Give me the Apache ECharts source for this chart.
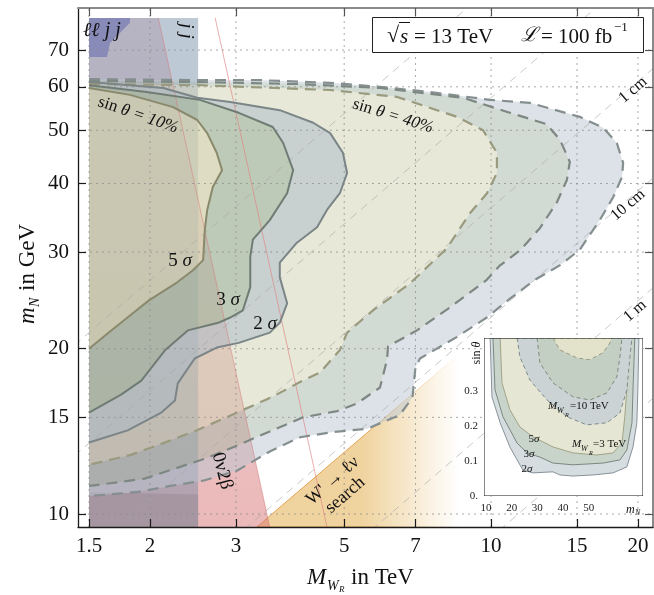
<!DOCTYPE html>
<html>
<head>
<meta charset="utf-8">
<script src="https://cdn.jsdelivr.net/npm/echarts@6.0.0/dist/echarts.min.js"></script>
<style>html,body{margin:0;padding:0;background:#fff;}#chart{width:654px;height:595px;}</style>
</head>
<body>
<div id="chart"></div>
<script>
// ================= DATA =================
const xTickTeV = [1.5, 2, 3, 5, 7, 10, 15, 20];
const yTickGeV = [10, 15, 20, 30, 40, 50, 60, 70];

// sin(theta) = 40 %  (dashed contours)   M_WR [TeV] , m_N [GeV]
const s40_2s_M = [1.5, 2.53, 3.36, 4.68, 5.92, 7.5, 9.95, 12.0, 15.2, 17.0, 18.1, 18.65, 18.55, 17.8, 16.7, 15.2, 13.85, 12.3, 10.95, 9.8, 8.5, 7.15, 7.0, 6.9, 6.5, 5.57, 4.74, 4.06, 3.52, 3.02, 2.57, 2.2, 1.89, 1.5];
const s40_2s_m = [62.0, 61.7, 61.7, 61.0, 60.0, 58.7, 56.8, 56.1, 52.9, 50.5, 47.4, 43.6, 41.1, 37.8, 34.3, 30.3, 28.4, 26.7, 24.7, 22.8, 21.0, 19.2, 18.5, 16.3, 15.15, 14.3, 14.1, 13.8, 13.0, 12.0, 11.5, 11.25, 10.97, 10.78];
const s40_3s_M = [1.5, 2.53, 4.06, 5.92, 8.76, 10.8, 13.0, 13.85, 14.5, 14.3, 13.65, 12.6, 11.5, 10.4, 9.8, 8.24, 7.05, 6.15, 6.12, 5.92, 5.31, 4.84, 4.12, 3.56, 3.06, 2.62, 2.25, 1.95, 1.565, 1.5];
const s40_3s_m = [61.5, 61.2, 60.7, 59.7, 57.3, 54.0, 51.3, 48.0, 43.8, 40.6, 37.0, 33.2, 30.3, 28.3, 26.7, 23.8, 21.6, 20.2, 19.1, 17.0, 15.9, 15.4, 15.0, 14.2, 13.4, 12.65, 12.1, 11.6, 11.3, 11.25];
const s40_5s_M = [1.5, 2.53, 4.68, 6.42, 8.52, 9.63, 10.28, 10.28, 9.81, 9.05, 8.12, 6.82, 5.73, 5.07, 4.90, 4.46, 4.06, 3.54, 2.94, 2.49, 2.10, 1.82, 1.5];
const s40_5s_m = [60.7, 60.4, 59.2, 57.5, 52.9, 50.0, 45.5, 41.8, 38.4, 35.3, 30.5, 26.3, 23.5, 21.4, 19.9, 18.1, 17.4, 16.3, 15.15, 14.2, 13.4, 12.8, 12.3];

// sin(theta) = 10 %  (solid contours)
const s10_2s_M = [1.5, 2.13, 2.50, 2.92, 3.69, 4.32, 4.68, 4.97, 5.07, 4.90, 4.61, 4.40, 4.00, 3.69, 3.69, 3.82, 3.69, 3.52, 3.04, 2.74, 2.47, 2.28, 2.25, 2.11, 1.80, 1.5];
const s10_2s_m = [61.2, 59.7, 57.3, 56.3, 54.4, 51.6, 49.4, 45.5, 41.8, 38.4, 35.8, 33.3, 31.2, 28.7, 27.0, 24.2, 22.3, 21.4, 20.5, 20.1, 19.2, 17.3, 16.1, 15.3, 14.2, 13.5];
const s10_3s_M = [1.5, 1.97, 2.53, 3.04, 3.57, 3.75, 3.93, 3.82, 3.52, 3.25, 3.21, 3.21, 3.10, 2.92, 2.76, 2.39, 2.15, 1.92, 1.745, 1.5];
const s10_3s_m = [60.4, 58.7, 56.8, 53.8, 50.7, 47.4, 42.3, 38.4, 34.3, 31.6, 29.4, 25.9, 23.5, 22.8, 22.3, 21.6, 19.9, 17.5, 16.5, 15.3];
const s10_5s_M = [1.5, 1.82, 2.23, 2.50, 2.62, 2.74, 2.81, 2.69, 2.62, 2.59, 2.57, 2.45, 2.27, 1.99, 1.82, 1.656, 1.5];
const s10_5s_m = [59.7, 58.0, 55.1, 52.2, 49.4, 45.5, 42.3, 39.4, 35.8, 32.9, 29.0, 27.8, 26.4, 24.5, 23.0, 21.5, 20.0];

// excluded / constrained regions
const jj_M = [1.5, 2.51, 2.51, 1.5];
const jj_m = [80.1, 80.1, 9.47, 9.47];
const nu2b_M = [1.5, 2.08, 3.52, 1.5];
const nu2b_m = [80.1, 80.1, 9.47, 9.47];
const lljj_M = [1.5, 1.82, 1.82, 1.656, 1.633, 1.5];
const lljj_m = [80.1, 80.1, 78.5, 72.1, 68.0, 68.0];
const lljjLow_M = [1.5, 2.51, 2.51, 1.5];
const lljjLow_m = [10.97, 10.85, 9.47, 9.47];
const redLine_M = [2.72, 4.61];
const redLine_m = [80.1, 9.47];
const wprime_M = [3.31, 9.81, 12.6, 12.6];
const wprime_m = [9.47, 21.6, 26.1, 9.47];

// decay-length lines (m_N at M_WR = 1.4 TeV and 22 TeV)
const decayNames = ['0.1 mm', '1 mm', '1 cm', '10 cm', '1 m', '10 m'];
const decayM_ends = [1.4, 22];
const decay_m_lo = [20.3, 12.77, 8.05, 5.08, 3.20, 2.02];
const decay_m_hi = [166.1, 104.6, 66.0, 41.7, 26.3, 16.55];

// inset: sin(theta) vs m_N
const insetXTicks = [10, 20, 30, 40, 50];
const insetYTicks = [0, 0.1, 0.2, 0.3];
const in3_2s_m = [11.6, 12.3, 15.5, 19.3, 22.1, 24.4, 28.3, 36.1, 38.8, 43.9, 51.7, 59.5, 64.9, 67.3, 68.8, 69.2, 69.6];
const in3_2s_s = [0.451, 0.283, 0.209, 0.140, 0.103, 0.074, 0.066, 0.069, 0.060, 0.057, 0.060, 0.066, 0.083, 0.140, 0.209, 0.303, 0.451];
const in3_3s_m = [12.7, 13.5, 16.6, 22.1, 26.0, 31.0, 36.1, 43.9, 55.6, 62.2, 64.9, 66.9, 67.3, 68.0];
const in3_3s_s = [0.451, 0.303, 0.226, 0.151, 0.123, 0.111, 0.094, 0.089, 0.094, 0.103, 0.131, 0.209, 0.303, 0.451];
const in3_5s_m = [15.5, 16.2, 19.3, 23.2, 28.3, 36.1, 43.9, 53.2, 59.5, 63.0, 64.1, 64.9, 65.3];
const in3_5s_s = [0.451, 0.323, 0.246, 0.197, 0.169, 0.140, 0.123, 0.117, 0.123, 0.151, 0.226, 0.303, 0.451];
const in10_2s_m = [22.1, 23.2, 27.1, 33.8, 41.6, 49.3, 57.1, 62.2, 64.9, 66.1, 66.9];
const in10_2s_s = [0.451, 0.397, 0.331, 0.274, 0.226, 0.203, 0.209, 0.237, 0.303, 0.397, 0.451];
const in10_3s_m = [29.9, 31.0, 36.1, 43.9, 50.5, 57.1, 61.0, 62.2, 63.0];
const in10_3s_s = [0.451, 0.380, 0.323, 0.283, 0.274, 0.294, 0.340, 0.397, 0.451];
const in10_5s_m = [36.1, 38.8, 45.5, 50.5, 55.6, 58.3, 59.1];
const in10_5s_s = [0.451, 0.417, 0.394, 0.389, 0.409, 0.437, 0.451];

// ================= STYLE / LAYOUT =================
const SERIF = "'Liberation Serif','DejaVu Serif',serif";
const AX = { xMin: 1.424, xMax: 21.47, yMin: 9.47, yMax: 83.5 };
const INSET_AX = { xMin: 9.2, xMax: 71.2, yMin: 0, yMax: 0.451 };
const WFADE = [5.4, 8.6]; // gradient fade of W' region (TeV)

const L = Math.log10;
const LP = (Ms, ms) => Ms.map((M, i) => [L(M), L(ms[i])]);
const IP = (xs, ys) => xs.map((x, i) => [x, ys[i]]);

function custom(z, renderItem, inset) {
  return {
    type: 'custom', coordinateSystem: 'cartesian2d',
    xAxisIndex: inset ? 2 : 0, yAxisIndex: inset ? 2 : 0,
    z: z, silent: true, clip: true, animation: false,
    data: inset ? [[30, 0.2]] : [[L(3), L(20)]],
    renderItem: renderItem
  };
}
function polyFill(pts, fill, z, inset, stroke, lw, dash) {
  return custom(z, (p, api) => ({
    type: 'polygon', shape: { points: pts.map(q => api.coord(q)) },
    style: { fill: fill, stroke: stroke || null, lineWidth: lw || 0, lineDash: dash || null }
  }), inset);
}
function ringFill(outer, inner, fill, z) {
  return custom(z, (p, api) => {
    const seg = arr => 'M' + arr.map(q => { const c = api.coord(q); return c[0].toFixed(2) + ' ' + c[1].toFixed(2); }).join('L') + 'Z';
    let d = seg(outer);
    if (inner) d += seg(inner.slice().reverse());
    return { type: 'path', shape: { pathData: d }, style: { fill: fill } };
  });
}
function polyLine(pts, stroke, lw, dash, z) {
  return custom(z, (p, api) => ({
    type: 'polyline', shape: { points: pts.map(q => api.coord(q)) },
    style: { fill: null, stroke: stroke, lineWidth: lw, lineDash: dash || null, lineJoin: 'round' }
  }));
}

const c40_2 = LP(s40_2s_M, s40_2s_m), c40_3 = LP(s40_3s_M, s40_3s_m), c40_5 = LP(s40_5s_M, s40_5s_m);
const c10_2 = LP(s10_2s_M, s10_2s_m), c10_3 = LP(s10_3s_M, s10_3s_m), c10_5 = LP(s10_5s_M, s10_5s_m);

const series = [];
// W' search region with horizontal fade
series.push(custom(2, (p, api) => {
  const pts = LP(wprime_M, wprime_m).map(q => api.coord(q));
  const x0 = api.coord([L(WFADE[0]), L(20)])[0], x1 = api.coord([L(WFADE[1]), L(20)])[0];
  const g = new echarts.graphic.LinearGradient(x0, 0, x1, 0, [
    { offset: 0, color: 'rgba(232,190,112,0.68)' }, { offset: 1, color: 'rgba(232,190,112,0)' }], true);
  const gs = new echarts.graphic.LinearGradient(x0, 0, x1, 0, [
    { offset: 0, color: 'rgba(225,150,60,0.85)' }, { offset: 1, color: 'rgba(225,150,60,0)' }], true);
  return { type: 'polygon', shape: { points: pts }, style: { fill: g, stroke: gs, lineWidth: 1 } };
}));
// 0νββ region, fading upward
series.push(custom(3, (p, api) => {
  const pts = LP(nu2b_M, nu2b_m).map(q => api.coord(q));
  const yTop = api.coord([L(2), L(nu2b_m[0])])[1], yBot = api.coord([L(2), L(nu2b_m[2])])[1];
  const g = new echarts.graphic.LinearGradient(0, yBot, 0, yTop, [
    { offset: 0, color: 'rgba(215,115,115,0.5)' }, { offset: 1, color: 'rgba(200,115,130,0.27)' }], true);
  return { type: 'polygon', shape: { points: pts }, style: { fill: g } };
}));
series.push(polyFill(LP(jj_M, jj_m), 'rgba(110,135,165,0.45)', 4));
series.push(polyFill(LP(lljj_M, lljj_m), 'rgba(75,80,170,0.42)', 5));
series.push(polyFill(LP(lljjLow_M, lljjLow_m), 'rgba(100,85,95,0.16)', 5));

// contour fills (rings)
series.push(ringFill(c40_2, c40_3, 'rgba(185,197,208,0.5)', 6));
series.push(ringFill(c40_3, c40_5, 'rgba(165,184,168,0.5)', 6));
series.push(ringFill(c40_5, c10_2, 'rgba(208,210,178,0.5)', 6));
series.push(ringFill(c10_2, null, 'rgba(208,210,178,0.5)', 6));
series.push(ringFill(c10_2, c10_3, 'rgba(170,185,200,0.5)', 7));
series.push(ringFill(c10_3, c10_5, 'rgba(150,172,152,0.5)', 7));
series.push(ringFill(c10_5, null, 'rgba(210,208,170,0.45)', 7));

// dotted grid
series.push(custom(8, (p, api) => {
  const ch = [];
  const st = { stroke: 'rgba(140,140,140,0.75)', lineWidth: 1, lineDash: [2, 4] };
  xTickTeV.forEach(v => {
    const a = api.coord([L(v), L(AX.yMin)]), b = api.coord([L(v), L(AX.yMax)]);
    ch.push({ type: 'line', shape: { x1: a[0], y1: a[1], x2: b[0], y2: b[1] }, style: st });
  });
  yTickGeV.forEach(v => {
    const a = api.coord([L(AX.xMin), L(v)]), b = api.coord([L(AX.xMax), L(v)]);
    ch.push({ type: 'line', shape: { x1: a[0], y1: a[1], x2: b[0], y2: b[1] }, style: st });
  });
  return { type: 'group', children: ch };
}));
// decay length lines
decayNames.forEach((n, i) => {
  series.push(polyLine(LP(decayM_ends, [decay_m_lo[i], decay_m_hi[i]]), 'rgba(165,165,165,0.6)', 1, [8, 6], 8));
});
// 0νββ edges
series.push(polyLine(LP(redLine_M, redLine_m), 'rgba(225,130,130,0.65)', 1, null, 9));
series.push(polyLine(LP([nu2b_M[1], nu2b_M[2]], [nu2b_m[1], nu2b_m[2]]), 'rgba(215,120,120,0.5)', 1, null, 9));

// contour lines
series.push(polyLine(c40_2, '#868f90', 2.2, [11, 7], 10));
series.push(polyLine(c40_3, '#7d8883', 2.2, [11, 7], 10));
series.push(polyLine(c40_5, '#9a9a7e', 2.2, [11, 7], 10));
series.push(polyLine(c10_2, '#7b8587', 2, null, 10));
series.push(polyLine(c10_3, '#6f7c74', 2, null, 10));
series.push(polyLine(c10_5, '#8a896c', 2, null, 10));

// ---------- inset ----------
series.push(custom(20, (p, api) => {
  const a = api.coord([INSET_AX.xMin, INSET_AX.yMax]), b = api.coord([INSET_AX.xMax, INSET_AX.yMin]);
  return { type: 'rect', shape: { x: a[0], y: a[1], width: b[0] - a[0], height: b[1] - a[1] }, style: { fill: '#fff' } };
}, true));
series.push(polyFill(IP(in3_2s_m, in3_2s_s), '#d6dde1', 21, true, '#88939a', 1));
series.push(polyFill(IP(in3_3s_m, in3_3s_s), '#c8d4ca', 21, true, '#7a8881', 1));
series.push(polyFill(IP(in3_5s_m, in3_5s_s), '#e5e6d3', 21, true, '#a3a488', 1));
series.push(polyFill(IP(in10_2s_m, in10_2s_s), '#cbd3d5', 22, true, '#7f8a8b', 1, [4, 3]));
series.push(polyFill(IP(in10_3s_m, in10_3s_s), '#c3cfc3', 22, true, '#7f8a80', 1, [4, 3]));
series.push(polyFill(IP(in10_5s_m, in10_5s_s), '#e2e3ca', 22, true, '#9a9a80', 1, [4, 3]));
series.push(custom(25, (p, api) => {
  const a = api.coord([INSET_AX.xMin, INSET_AX.yMax]), b = api.coord([INSET_AX.xMax, INSET_AX.yMin]);
  return { type: 'rect', shape: { x: a[0], y: a[1], width: b[0] - a[0], height: b[1] - a[1] }, style: { fill: null, stroke: '#111', lineWidth: 1 } };
}, true));

// ================= AXES =================
const fmt = v => String(Math.round(Math.pow(10, v) * 100) / 100);
const xT = xTickTeV.map(L), yT = yTickGeV.map(L);
function mainAxis(pos, vals, isX, showLabel) {
  const dark = pos === 'bottom' || pos === 'left';
  return {
    type: 'value', gridIndex: 0, position: pos, z: 50,
    min: isX ? L(AX.xMin) : L(AX.yMin), max: isX ? L(AX.xMax) : L(AX.yMax),
    axisLine: { show: true, lineStyle: { color: dark ? '#1a1a1a' : '#8a8a8a', width: dark ? 1.3 : 2 } },
    axisTick: { show: true, inside: true, length: 8, customValues: vals, lineStyle: { color: dark ? '#1a1a1a' : '#555', width: 1.2 } },
    axisLabel: { show: showLabel, customValues: vals, formatter: fmt, fontFamily: SERIF, fontSize: 21, color: '#111', margin: 9 },
    splitLine: { show: false }
  };
}
function insetAxis(pos, isX, vals) {
  const show = pos === 'bottom' || pos === 'left';
  return {
    type: 'value', gridIndex: 1, position: pos, z: 30,
    min: isX ? INSET_AX.xMin : INSET_AX.yMin, max: isX ? INSET_AX.xMax : INSET_AX.yMax,
    axisLine: { show: false }, axisTick: { show: false }, splitLine: { show: false },
    axisLabel: { show: show, customValues: vals, fontFamily: SERIF, fontSize: 11, color: '#222', margin: isX ? 7 : 6,
      formatter: v => (v === 0 ? '0.' : String(v)) }
  };
}

// ================= TEXT =================
function T(x, y, text, font, o) {
  o = o || {};
  return { type: 'text', x: x, y: y, rotation: o.rot || 0, z: 100, silent: true,
    style: { text: text, font: font, fill: o.fill || '#111', align: o.align || 'center', verticalAlign: o.va || 'middle',
      rich: o.rich, lineHeight: o.lh } };
}
const F = (s, it) => (it ? 'italic ' : '') + s + 'px ' + SERIF;
const richBase = (sz) => ({
  r: { fontSize: sz, fontFamily: SERIF, fill: '#111' },
  i: { fontSize: sz, fontFamily: SERIF, fontStyle: 'italic', fill: '#111' }
});

const graphics = [
  // axis titles
  { type: 'group', x: 28, y: 324, rotation: Math.PI / 2, z: 100, children: [
    T(0, 0, 'm', F(23, true), { align: 'left' }),
    T(17, 7, 'N', F(14, true), { align: 'left' }),
    T(33, 0, 'in GeV', F(23), { align: 'left' })
  ]},
  T(307, 578, 'M', F(23, true), { align: 'left' }),
  T(327, 586, 'W', F(14, true), { align: 'left' }),
  T(339, 590, 'R', F(9, true), { align: 'left' }),
  T(351, 578, 'in TeV', F(23), { align: 'left' }),
  // energy / luminosity box
  { type: 'rect', z: 100, shape: { x: 372.5, y: 17.5, width: 271, height: 35 }, style: { fill: '#fff', stroke: '#222', lineWidth: 1 } },
  T(387, 36, '√', F(22), { align: 'left' }),
  { type: 'line', z: 101, shape: { x1: 399, y1: 22.5, x2: 410, y2: 22.5 }, style: { stroke: '#111', lineWidth: 1 } },
  T(400, 37, 's', F(21, true), { align: 'left' }),
  T(414, 37, '= 13 TeV', F(21), { align: 'left' }),
  T(521, 36, 'ℒ', "italic 20px 'DejaVu Serif',serif", { align: 'left' }),
  T(541, 37, '= 100 fb', F(21), { align: 'left' }),
  T(614, 28, '−1', F(13), { align: 'left' }),
  // region labels
  T(83, 31, 'ℓℓ j j', F(20, true), { align: 'left' }),
  T(186, 31, 'j j', F(19, true), { rot: -Math.PI / 2 }),
  T(138, 115, '{r|sin} {i|θ = 10%}', F(17), { rot: -0.33, rich: richBase(17) }),
  T(393, 116, '{r|sin} {i|θ = 40%}', F(17), { rot: -0.3, rich: richBase(17) }),
  T(180, 261, '{r|5} {i|σ}', F(19), { rich: richBase(19) }),
  T(228, 300, '{r|3} {i|σ}', F(19), { rich: richBase(19) }),
  T(265, 324, '{r|2} {i|σ}', F(19), { rich: richBase(19) }),
  T(222, 471, '0ν2β', F(19), { rot: -1.31 }),
  T(339, 488, "W' → ℓν\nsearch", F(18), { rot: 0.72, lh: 19 }),
  T(633, 90, '1 cm', F(16), { rot: 0.71 }),
  T(628, 205, '10 cm', F(16), { rot: 0.71 }),
  T(635, 311, '1 m', F(16), { rot: 0.71 }),
  // inset labels
  T(477, 353, '{r|sin} {i|θ}', F(12), { rot: Math.PI / 2, rich: richBase(12) }),
  T(626, 510, 'm', F(12, true), { align: 'left' }),
  T(635, 513, 'N', F(8, true), { align: 'left' }),
  T(548, 406, 'M', F(11, true), { align: 'left' }),
  T(557, 411, 'W', F(8, true), { align: 'left' }),
  T(565, 415, 'R', F(6, true), { align: 'left' }),
  T(570, 406, '=10 TeV', F(11), { align: 'left' }),
  T(572, 444, 'M', F(11, true), { align: 'left' }),
  T(581, 449, 'W', F(8, true), { align: 'left' }),
  T(589, 453, 'R', F(6, true), { align: 'left' }),
  T(593, 444, '=3 TeV', F(11), { align: 'left' }),
  T(534, 439, '{r|5}{i|σ}', F(11), { rich: richBase(11) }),
  T(529, 454, '{r|3}{i|σ}', F(11), { rich: richBase(11) }),
  T(527, 469, '{r|2}{i|σ}', F(11), { rich: richBase(11) })
];

const chart = echarts.init(document.getElementById('chart'), null, { renderer: 'canvas' });
chart.setOption({
  animation: false,
  backgroundColor: '#fff',
  grid: [
    { left: 78, right: 1, top: 8, bottom: 68 },
    { left: 484, top: 338, width: 159, height: 158 }
  ],
  xAxis: [mainAxis('bottom', xT, true, true), mainAxis('top', xT, true, false),
          insetAxis('bottom', true, insetXTicks)],
  yAxis: [mainAxis('left', yT, false, true), mainAxis('right', yT, false, false),
          insetAxis('left', false, insetYTicks)],
  series: series,
  graphic: graphics
});
</script>
</body>
</html>
